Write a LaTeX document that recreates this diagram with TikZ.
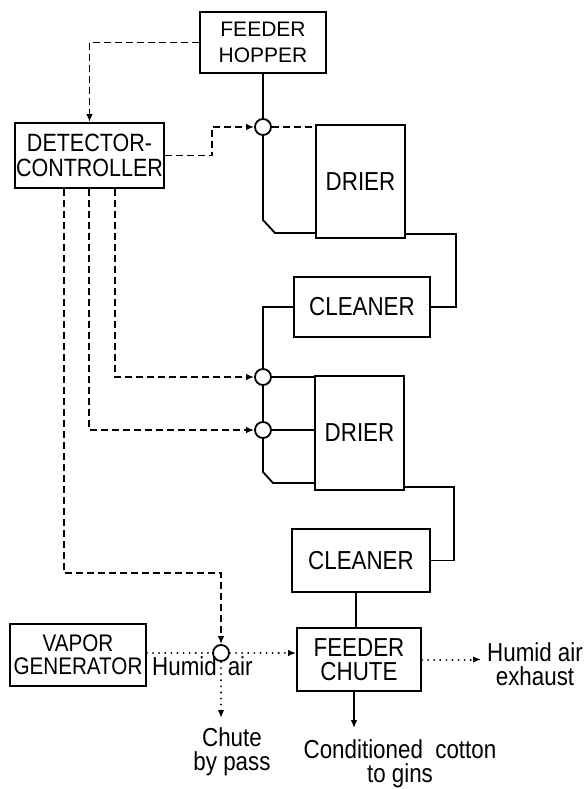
\documentclass[tikz,border=0pt]{standalone}
\usepackage{fontspec}
\setmainfont[FakeStretch=0.86]{Liberation Sans}
\newfontfamily\hopfont{Liberation Sans}
\usetikzlibrary{arrows.meta,calc}
\begin{document}
\begin{tikzpicture}[x=1pt,y=-1pt,
  every node/.style={font=\fontsize{26}{24}\selectfont},
  blk/.style={draw,line width=1.8pt,inner sep=0pt,align=center},
  valve/.style={draw,circle,line width=1.8pt,minimum size=16pt,inner sep=0pt},
  pipe/.style={line width=1.8pt},
  ctl/.style={line width=1.8pt,dash pattern=on 7pt off 4pt},
  vap/.style={line width=2pt,line cap=round,dash pattern=on 0.1pt off 6pt},
  tip/.style={-{Latex[length=8pt,width=6.5pt]}},
  lbl/.style={align=center,inner sep=0pt}
]
\useasboundingbox (0,0) rectangle (587,789);

% blocks
\node[blk,minimum width=126pt,minimum height=61pt,font=\hopfont\fontsize{21}{26}\selectfont] (hopper) at (263,42.5) {FEEDER\\HOPPER};
\node[blk,minimum width=149pt,minimum height=65pt,font=\fontsize{25}{25}\selectfont] (detector) at (89.5,155.5) {DETECTOR-\\CONTROLLER};
\node[blk,minimum width=89pt,minimum height=113pt] (drier1) at (360.5,181.5) {DRIER};
\node[blk,minimum width=136pt,minimum height=60pt] (cleaner1) at (362,307) {CLEANER};
\node[blk,minimum width=89pt,minimum height=114pt] (drier2) at (359.5,433) {DRIER};
\node[blk,minimum width=138pt,minimum height=63pt] (cleaner2) at (361,560.5) {CLEANER};
\node[blk,minimum width=124pt,minimum height=63pt] (chute) at (359,659.5) {FEEDER\\CHUTE};
\node[blk,minimum width=136pt,minimum height=62pt,font=\fontsize{24}{23}\selectfont] (vapor) at (78,655) {VAPOR\\GENERATOR};

% valves
\node[valve] (c1) at (263,127) {};
\node[valve] (c2) at (263,377) {};
\node[valve] (c3) at (263,430) {};
\node[valve] (c4) at (221,653) {};

% labels
\node[lbl,anchor=base west] (ha) at (152,675) {Humid\hspace{11pt}air};
\node[lbl,anchor=north] (bypass) at (232,727) {Chute\\by pass};
\node[lbl,anchor=north] (cond) at (400,739) {Conditioned\ \ cotton\\to gins};
\node[lbl,anchor=north west] (exh) at (487,642) {Humid air\\exhaust};

% bend coordinates
\coordinate (p1) at (263,220);
\coordinate (p2) at (275,233);
\coordinate (p3) at (456,234);
\coordinate (p5) at (263,472);
\coordinate (p6) at (273,483);
\coordinate (p7) at (454,487);
\coordinate (xD) at (356,0);
\coordinate (p8) at (354,728);
\coordinate (p9) at (221,718);
\coordinate (p10) at (481,0);
\coordinate (b1) at (212,155.5);
\coordinate (xA) at (115,0);
\coordinate (xB) at (89,0);
\coordinate (k4) at (64,573);

% material flow (solid)
\draw[pipe] (hopper.south) -- (c1.north);
\draw[pipe] (c1.south) -- (p1) -- (p2) -- (p2 -| drier1.west);
\draw[pipe] (p3 -| drier1.east) -- (p3) |- (cleaner1.east);
\draw[pipe] (cleaner1.west) -| (c2.north);
\draw[pipe] (c2.south) -- (c3.north);
\draw[pipe] (c2.east) -- (c2 -| drier2.west);
\draw[pipe] (c3.east) -- (c3 -| drier2.west);
\draw[pipe] (c3.south) -- (p5) -- (p6) -- (p6 -| drier2.west);
\draw[pipe] (p7 -| drier2.east) -- (p7) |- (cleaner2.east);
\draw[pipe] (cleaner2.south -| xD) -- (chute.north -| xD);
\draw[line width=1.3pt,tip] (chute.south -| p8) -- (p8);

% control lines (dashed)
\draw[ctl,tip] (hopper.west) -| (detector.north);
\draw[ctl,tip] (detector.east) -- (b1) |- (c1.west);
\draw[ctl] (c1.east) -- (c1 -| drier1.west);
\draw[ctl,tip] (detector.south -| xA) |- (c2.west);
\draw[ctl,tip] (detector.south -| xB) |- (c3.west);
\draw[ctl,tip] (detector.south -| k4) -- (k4) -| (c4.north);

% humid air (dotted)
\draw[vap] (c4 -| vapor.east) -- (c4.west);
\draw[vap,tip] (c4.east) -- (c4 -| chute.west);
\draw[vap,tip] (c4.south) -- (p9);
\draw[vap,tip] (chute.east) -- (chute.east -| p10);
\end{tikzpicture}
\end{document}
